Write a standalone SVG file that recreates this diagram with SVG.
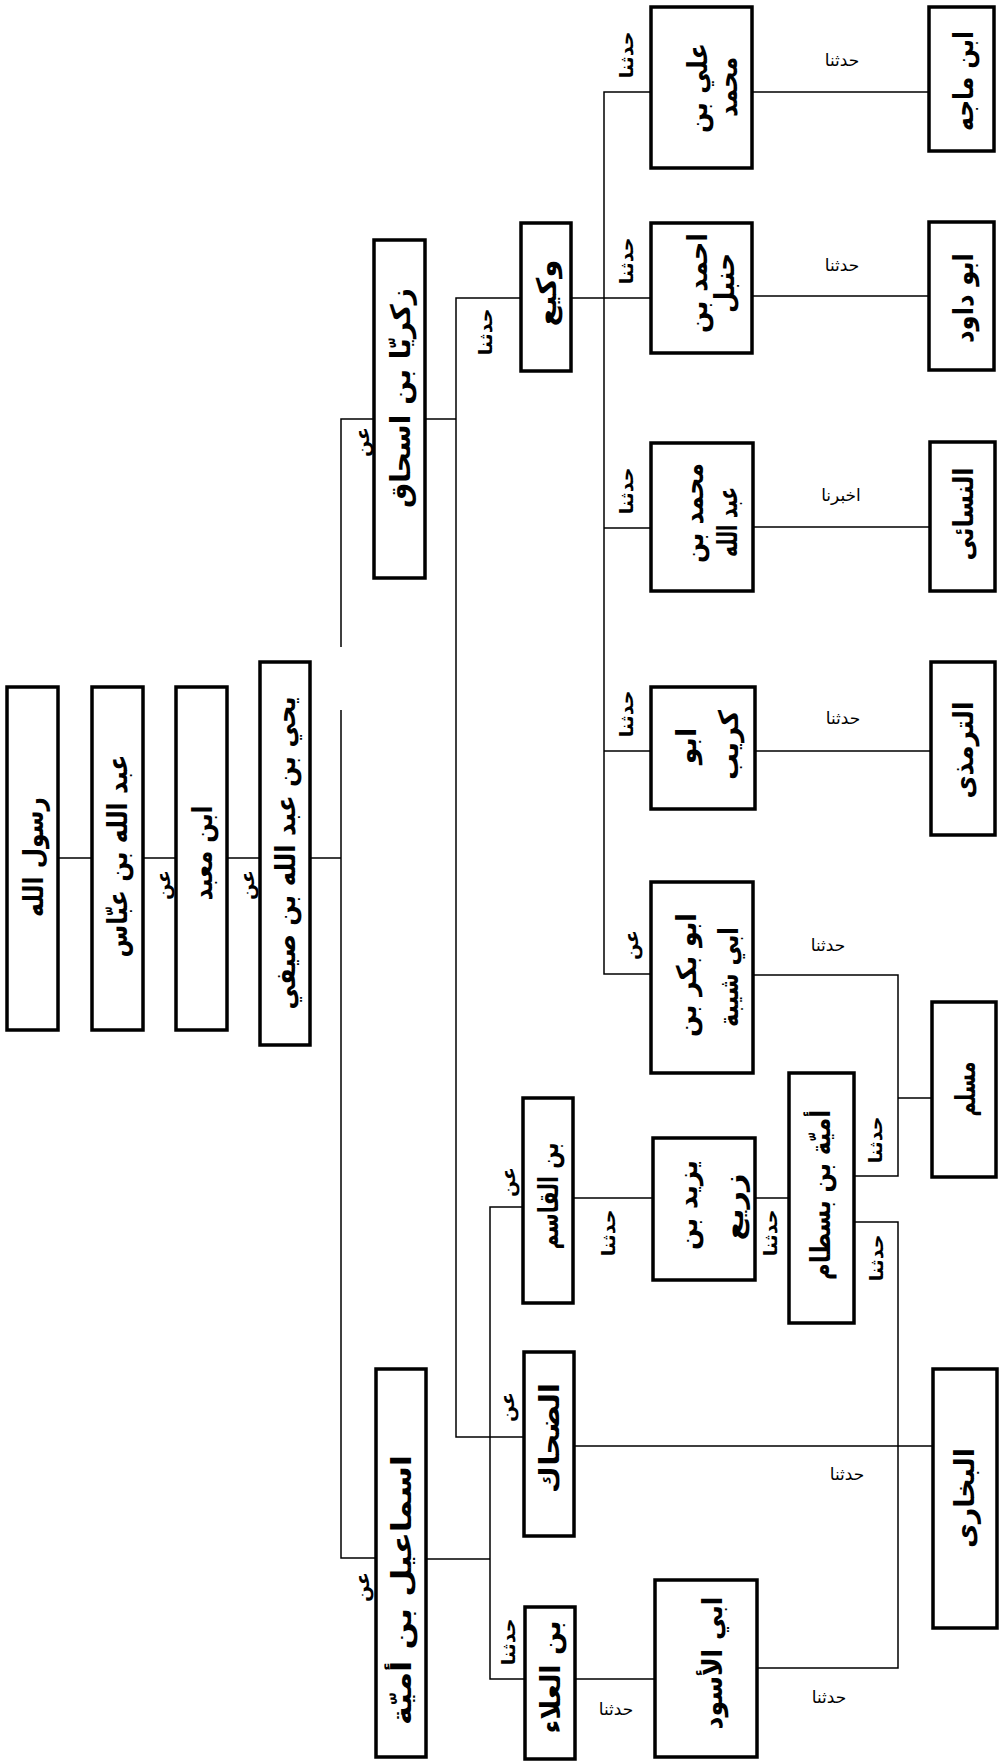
<svg xmlns="http://www.w3.org/2000/svg" width="999" height="1761" viewBox="0 0 999 1761">
<style>
.box{fill:#fff;stroke:#000;stroke-width:3.5}
.ln{stroke:#000;stroke-width:1.5;fill:none}
.t{font-family:"DejaVu Sans",sans-serif;font-size:27px;font-weight:bold;fill:#000;text-anchor:middle;dominant-baseline:central}
.l{font-family:"DejaVu Sans",sans-serif;font-size:17px;fill:#000;text-anchor:middle;dominant-baseline:central}
.lb{font-family:"DejaVu Sans",sans-serif;font-size:19px;font-weight:bold;fill:#000;text-anchor:middle;dominant-baseline:central}
</style>
<rect width="999" height="1761" fill="#fff"/>
<g id="connectors">
<path class="ln" d="M58 858H92M143 858H176M227 858H260M310 858H341"/>
<path class="ln" d="M374 419H341V647M341 710V1558H376"/>
<path class="ln" d="M425 419H456M521 298H456V1437H524"/>
<path class="ln" d="M426 1559H490M523 1207H490V1679H525"/>
<path class="ln" d="M571 298H604M651 92H604V974H651M604 298H651M604 528H651M604 751H651"/>
<path class="ln" d="M752 92H929M752 296H929M753 527H930M755 751H931"/>
<path class="ln" d="M753 975H898V1176H854M898 1098H932"/>
<path class="ln" d="M573 1198H653M755 1198H789"/>
<path class="ln" d="M854 1222H898V1668H757"/>
<path class="ln" d="M574 1446H933M575 1679H655"/>
</g>
<g id="edge-labels">
<text class="lb" transform="translate(163,885) rotate(-90)">عن</text>
<text class="lb" transform="translate(247,885) rotate(-90)">عن</text>
<text class="lb" transform="translate(362,442) rotate(-90)">عن</text>
<text class="lb" transform="translate(362,1587) rotate(-90)">عن</text>
<text class="lb" transform="translate(485,332) rotate(-90)">حدثنا</text>
<text class="lb" transform="translate(507,1407) rotate(-90)">عن</text>
<text class="lb" transform="translate(508,1182) rotate(-90)">عن</text>
<text class="lb" transform="translate(508,1642) rotate(-90)">حدثنا</text>
<text class="lb" transform="translate(626,55) rotate(-90)">حدثنا</text>
<text class="lb" transform="translate(626,261) rotate(-90)">حدثنا</text>
<text class="lb" transform="translate(626,491) rotate(-90)">حدثنا</text>
<text class="lb" transform="translate(626,714) rotate(-90)">حدثنا</text>
<text class="lb" transform="translate(631,945) rotate(-90)">عن</text>
<text class="lb" transform="translate(608,1233) rotate(-90)">حدثنا</text>
<text class="lb" transform="translate(770,1233) rotate(-90)">حدثنا</text>
<text class="lb" transform="translate(875,1140) rotate(-90)">حدثنا</text>
<text class="lb" transform="translate(876,1258) rotate(-90)">حدثنا</text>
<text class="l" x="842" y="60">حدثنا</text>
<text class="l" x="842" y="265">حدثنا</text>
<text class="l" x="841" y="495">اخبرنا</text>
<text class="l" x="843" y="718">حدثنا</text>
<text class="l" x="828" y="945">حدثنا</text>
<text class="l" x="847" y="1474">حدثنا</text>
<text class="l" x="829" y="1697">حدثنا</text>
<text class="l" x="616" y="1709">حدثنا</text>
</g>
<g id="rasul"><rect class="box" x="7" y="687" width="51" height="343"/><text class="t" transform="translate(33,857) rotate(-90)" textLength="120" lengthAdjust="spacingAndGlyphs">رسول الله</text></g>
<g id="ibn-abbas"><rect class="box" x="92" y="687" width="51" height="343"/><text class="t" transform="translate(117,856) rotate(-90)" textLength="203" lengthAdjust="spacingAndGlyphs">عبد الله بن عبّاس</text></g>
<g id="ibn-mabad"><rect class="box" x="176" y="687" width="51" height="343"/><text class="t" transform="translate(202,853) rotate(-90)" textLength="95" lengthAdjust="spacingAndGlyphs">ابن معبد</text></g>
<g id="yahya"><rect class="box" x="260" y="662" width="50" height="383"/><text class="t" transform="translate(285,853) rotate(-90)" textLength="313" lengthAdjust="spacingAndGlyphs">يحي بن عبد الله بن صيفي</text></g>
<g id="zakariya"><rect class="box" x="374" y="240" width="51" height="338"/><text class="t" transform="translate(400,398) rotate(-90)" textLength="220" lengthAdjust="spacingAndGlyphs">زكريّا بن اسحاق</text></g>
<g id="ismail"><rect class="box" x="376" y="1369" width="50" height="388"/><text class="t" transform="translate(401,1590) rotate(-90)" textLength="270" lengthAdjust="spacingAndGlyphs">اسماعيل بن أميّة</text></g>
<g id="waki"><rect class="box" x="521" y="223" width="50" height="148"/><text class="t" transform="translate(546,293) rotate(-90)" textLength="67" lengthAdjust="spacingAndGlyphs">وكيع</text></g>
<g id="dahhak"><rect class="box" x="524" y="1352" width="50" height="184"/><text class="t" transform="translate(549,1438) rotate(-90)" textLength="110" lengthAdjust="spacingAndGlyphs">الضحاك</text></g>
<g id="ibn-qasim"><rect class="box" x="523" y="1098" width="50" height="205"/><text class="t" transform="translate(548,1196) rotate(-90)" textLength="107" lengthAdjust="spacingAndGlyphs">بن القاسم</text></g>
<g id="ibn-ala"><rect class="box" x="525" y="1607" width="50" height="152"/><text class="t" transform="translate(550,1677) rotate(-90)" textLength="113" lengthAdjust="spacingAndGlyphs">بن العلاء</text></g>
<g id="ali"><rect class="box" x="651" y="7" width="101" height="161"/><text class="t" transform="translate(697,88) rotate(-90)" textLength="90" lengthAdjust="spacingAndGlyphs">علي بن</text><text class="t" transform="translate(727,87) rotate(-90)" textLength="60" lengthAdjust="spacingAndGlyphs">محمد</text></g>
<g id="ahmad"><rect class="box" x="651" y="223" width="101" height="130"/><text class="t" transform="translate(697,283) rotate(-90)" textLength="100" lengthAdjust="spacingAndGlyphs">احمد بن</text><text class="t" transform="translate(724,283) rotate(-90)" textLength="60" lengthAdjust="spacingAndGlyphs">حنبل</text></g>
<g id="muhammad"><rect class="box" x="651" y="443" width="102" height="148"/><text class="t" transform="translate(693,513) rotate(-90)" textLength="100" lengthAdjust="spacingAndGlyphs">محمد بن</text><text class="t" transform="translate(727,522) rotate(-90)" textLength="70" lengthAdjust="spacingAndGlyphs">عبد الله</text></g>
<g id="abu-kurayb"><rect class="box" x="651" y="687" width="104" height="122"/><text class="t" transform="translate(686,746) rotate(-90)">ابو</text><text class="t" transform="translate(728,745) rotate(-90)" textLength="70" lengthAdjust="spacingAndGlyphs">كريب</text></g>
<g id="abu-bakr"><rect class="box" x="651" y="882" width="102" height="191"/><text class="t" transform="translate(686,975) rotate(-90)" textLength="124" lengthAdjust="spacingAndGlyphs">ابو بكر بن</text><text class="t" transform="translate(728,977) rotate(-90)" textLength="100" lengthAdjust="spacingAndGlyphs">ابي شيبة</text></g>
<g id="yazid"><rect class="box" x="653" y="1138" width="102" height="142"/><text class="t" transform="translate(687,1205) rotate(-90)" textLength="90" lengthAdjust="spacingAndGlyphs">يزيد بن</text><text class="t" transform="translate(733,1207) rotate(-90)" textLength="67" lengthAdjust="spacingAndGlyphs">زريع</text></g>
<g id="umayya"><rect class="box" x="789" y="1073" width="65" height="250"/><text class="t" transform="translate(820,1195) rotate(-90)" textLength="170" lengthAdjust="spacingAndGlyphs">أميّة بن بسطام</text></g>
<g id="abu-aswad"><rect class="box" x="655" y="1580" width="102" height="177"/><text class="t" transform="translate(712,1663) rotate(-90)" textLength="133" lengthAdjust="spacingAndGlyphs">ابي الأسود</text></g>
<g id="ibn-majah"><rect class="box" x="929" y="7" width="65" height="144"/><text class="t" transform="translate(963,81) rotate(-90)" textLength="100" lengthAdjust="spacingAndGlyphs">ابن ماجه</text></g>
<g id="abu-dawud"><rect class="box" x="929" y="222" width="65" height="148"/><text class="t" transform="translate(963,298) rotate(-90)" textLength="90" lengthAdjust="spacingAndGlyphs">ابو داود</text></g>
<g id="nasai"><rect class="box" x="930" y="442" width="65" height="149"/><text class="t" transform="translate(963,514) rotate(-90)" textLength="93" lengthAdjust="spacingAndGlyphs">النسائى</text></g>
<g id="tirmidhi"><rect class="box" x="931" y="662" width="64" height="173"/><text class="t" transform="translate(963,750) rotate(-90)" textLength="97" lengthAdjust="spacingAndGlyphs">الترمذى</text></g>
<g id="muslim"><rect class="box" x="932" y="1002" width="64" height="175"/><text class="t" transform="translate(965,1089) rotate(-90)" textLength="55" lengthAdjust="spacingAndGlyphs">مسلم</text></g>
<g id="bukhari"><rect class="box" x="933" y="1369" width="64" height="259"/><text class="t" transform="translate(964,1498) rotate(-90)" textLength="100" lengthAdjust="spacingAndGlyphs">البخارى</text></g>
</svg>
